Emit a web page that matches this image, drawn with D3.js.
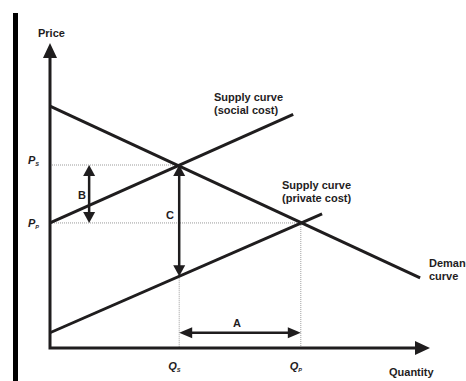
<!DOCTYPE html>
<html><head><meta charset="utf-8">
<script src="https://cdn.jsdelivr.net/npm/d3@7"></script>
<style>body{margin:0;background:#fff}svg{display:block}</style>
</head><body>
<script>
// ---- data (conceptual units: quantity 0-100, price 0-100) ----
const priceLevels = [60, 41];          // Ps, Pp
const priceSubs = ["S", "P"];
const quantityLevels = [34, 66];       // Qs, Qp
const quantitySubs = ["S", "P"];
const demandCurve = [[0, 79.3], [97.4, 23]];
const socialSupply = [[0, 41], [64, 76.6]];
const privateSupply = [[0, 5], [71.6, 44]];
const curveLabels = [["Supply curve", "(social cost)"], ["Supply curve", "(private cost)"], ["Demand", "curve"]];
const axisTitles = ["Price", "Quantity"];
const arrowLabels = ["A", "B", "C"];
const arrowBQuantity = 10.3;
const arrowAPrice = 5;

const W = 466, H = 381;
const ink = "#1f1d1e";
const font = "'Liberation Sans', Arial, sans-serif";

const svg = d3.select("body").append("svg").attr("width", W).attr("height", H);

const x = d3.scaleLinear().domain([0, 100]).range([50, 430]);
const y = d3.scaleLinear().domain([0, 100]).range([348, 43]);

// left black bar
svg.append("rect").attr("x", 13).attr("y", 13).attr("width", 5).attr("height", H - 13).attr("fill", "#000");

const interp = (seg, q) => seg[0][1] + (seg[1][1] - seg[0][1]) * (q - seg[0][0]) / (seg[1][0] - seg[0][0]);

// dotted guide lines
const dots = svg.append("g").attr("stroke", "#9a9a9a").attr("stroke-width", 1).attr("stroke-dasharray", "1,1").attr("fill", "none");
priceLevels.forEach((p, i) => {
  dots.append("line").attr("x1", x(0) + 2).attr("x2", x(quantityLevels[i])).attr("y1", y(p)).attr("y2", y(p));
});
dots.append("line").attr("x1", x(quantityLevels[0])).attr("x2", x(quantityLevels[0]))
  .attr("y1", y(interp(privateSupply, quantityLevels[0]))).attr("y2", y(0));
dots.append("line").attr("x1", x(quantityLevels[1])).attr("x2", x(quantityLevels[1]))
  .attr("y1", y(priceLevels[1])).attr("y2", y(0));

// axes via d3 axes (ticks hidden, labels custom)
const yAxisG = svg.append("g").attr("transform", `translate(${x(0)},0)`)
  .call(d3.axisLeft(y).tickValues(priceLevels).tickSize(0).tickFormat(""));
yAxisG.select(".domain").remove();
const xAxisG = svg.append("g").attr("transform", `translate(0,${y(0)})`)
  .call(d3.axisBottom(x).tickValues(quantityLevels).tickSize(0).tickFormat(""));
xAxisG.select(".domain").remove();

// axis lines with arrowheads
svg.append("path").attr("fill", "none").attr("stroke", ink).attr("stroke-width", 3).attr("stroke-linejoin", "miter")
  .attr("d", `M${x(0)},56 L${x(0)},${y(0)} L${x(100) - 14},${y(0)}`);
svg.append("path").attr("fill", ink)
  .attr("d", `M${x(0)},${y(100)} L${x(0) + 7},${y(100) + 15} L${x(0) - 7},${y(100) + 15} Z`);
svg.append("path").attr("fill", ink)
  .attr("d", `M${x(100)},${y(0)} L${x(100) - 15},${y(0) - 7} L${x(100) - 15},${y(0) + 7} Z`);

// curves
const line = d3.line().x(d => x(d[0])).y(d => y(d[1]));
[demandCurve, socialSupply, privateSupply].forEach(c => {
  svg.append("path").datum(c).attr("d", line).attr("fill", "none").attr("stroke", ink).attr("stroke-width", 3);
});

// double-headed arrows
function arrow(x1, y1, x2, y2, hl, hw) {
  const dx = x2 - x1, dy = y2 - y1, len = Math.hypot(dx, dy), ux = dx / len, uy = dy / len;
  const g = svg.append("g");
  g.append("line").attr("x1", x1 + ux * hl * 0.8).attr("y1", y1 + uy * hl * 0.8)
    .attr("x2", x2 - ux * hl * 0.8).attr("y2", y2 - uy * hl * 0.8)
    .attr("stroke", ink).attr("stroke-width", 2.5);
  const head = (tx, ty, sx, sy) => {
    const bx = tx + sx * hl, by = ty + sy * hl;
    return `M${tx},${ty} L${bx - sy * hw},${by + sx * hw} L${bx + sy * hw},${by - sx * hw} Z`;
  };
  g.append("path").attr("fill", ink).attr("d", head(x1, y1, ux, uy));
  g.append("path").attr("fill", ink).attr("d", head(x2, y2, -ux, -uy));
}
// A
arrow(x(quantityLevels[0]), y(arrowAPrice), x(quantityLevels[1]), y(arrowAPrice), 13, 5.5);
// B
arrow(x(arrowBQuantity), y(priceLevels[0]), x(arrowBQuantity), y(priceLevels[1]), 11, 6);
// C
arrow(x(quantityLevels[0]), y(priceLevels[0]), x(quantityLevels[0]), y(interp(privateSupply, quantityLevels[0])), 11, 6);

// text
const txt = svg.append("g").attr("font-family", font).attr("font-weight", "bold").attr("font-size", 11).attr("fill", ink);
function label(tx, ty, s) { return txt.append("text").attr("x", tx).attr("y", ty).text(s); }
label(38, 37, axisTitles[0]);
label(389, 376, axisTitles[1]);
const clPos = [[214, 101], [282, 189], [429, 267]];
curveLabels.forEach((ls, i) => ls.forEach((s, j) => label(clPos[i][0], clPos[i][1] + j * 12.5, s)));
label(233, 327, arrowLabels[0]);
label(78, 199, arrowLabels[1]);
label(166, 219, arrowLabels[2]);

// price tick labels with subscripts
yAxisG.selectAll(".tick").each(function (d, i) {
  const t = txt.append("text").attr("x", 28).attr("y", y(d) + (i === 0 ? -1 : 4)).attr("font-style", "italic");
  t.append("tspan").text("P");
  t.append("tspan").attr("font-size", 5.5).attr("dy", 2).text(priceSubs[i]);
});
xAxisG.selectAll(".tick").each(function (d, i) {
  const t = txt.append("text").attr("x", x(d) - 11).attr("y", 370).attr("font-style", "italic");
  t.append("tspan").text("Q");
  t.append("tspan").attr("font-size", 5.5).attr("dy", 2).text(quantitySubs[i]);
});
</script>
</body></html>
